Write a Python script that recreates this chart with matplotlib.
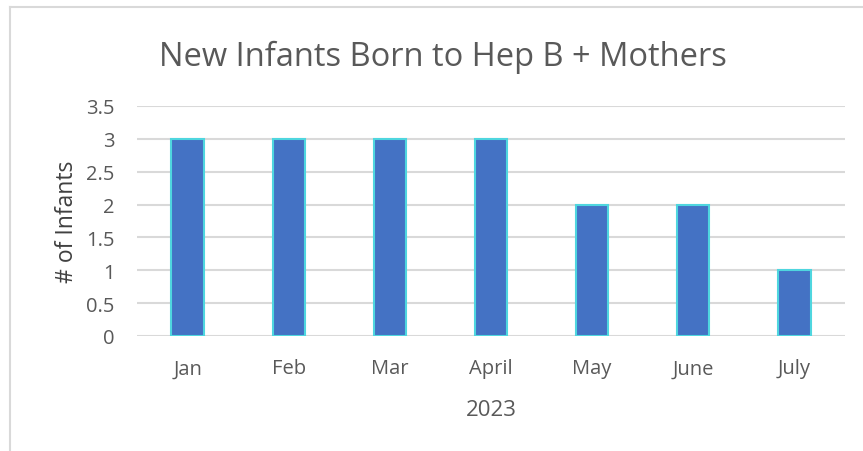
import matplotlib
matplotlib.use('Agg')
import matplotlib.pyplot as plt
from matplotlib.lines import Line2D

# Data
months = ['Jan', 'Feb', 'Mar', 'April', 'May', 'June', 'July']
infants = [3, 3, 3, 3, 2, 2, 1]
yticks = [0, 0.5, 1, 1.5, 2, 2.5, 3, 3.5]
ytick_labels = ['0', '0.5', '1', '1.5', '2', '2.5', '3', '3.5']

plt.rcParams['font.family'] = ['Open Sans', 'DejaVu Sans']

W, H = 863, 452
fig = plt.figure(figsize=(W / 100, H / 100), dpi=100)

# plot area in pixels
left, right, y0, y35 = 137, 845, 337, 107
ax = fig.add_axes([left / W, (H - y0) / H, (right - left) / W, (y0 - y35) / H])

x = range(len(months))
ax.bar(x, infants, width=0.32, color='#4472C4', edgecolor='#4FD6DF', linewidth=1.5, zorder=3)

ax.set_xlim(-0.5, len(months) - 0.5)
ax.set_ylim(0, 3.5)
ax.set_yticks(yticks)
ax.set_yticklabels(ytick_labels)
ax.set_xticks(list(x))
ax.set_xticklabels(months)
ax.tick_params(axis='both', length=0, labelsize=14.5, colors='#595959')
ax.tick_params(axis='y', pad=16)
ax.tick_params(axis='x', pad=16)
ax.grid(axis='y', color='#D9D9D9', linewidth=1.5, zorder=0)
for s in ax.spines.values():
    s.set_visible(False)

ax.set_xlabel('2023', fontsize=16, color='#595959', labelpad=15)
ax.set_ylabel('# of Infants', fontsize=16.5, color='#404040', labelpad=5)

fig.text(443 / W, 1 - 57 / H, 'New Infants Born to Hep B + Mothers', fontsize=23.5,
         color='#595959', ha='center', va='center')

# chart border (top and left visible)
fig.add_artist(Line2D([10 / W, 10 / W], [0, 1 - 8 / H], color='#D9D9D9', linewidth=1.5))
fig.add_artist(Line2D([10 / W, 1], [1 - 8 / H, 1 - 8 / H], color='#D9D9D9', linewidth=1.5))

fig.savefig('out.png', dpi=100)
